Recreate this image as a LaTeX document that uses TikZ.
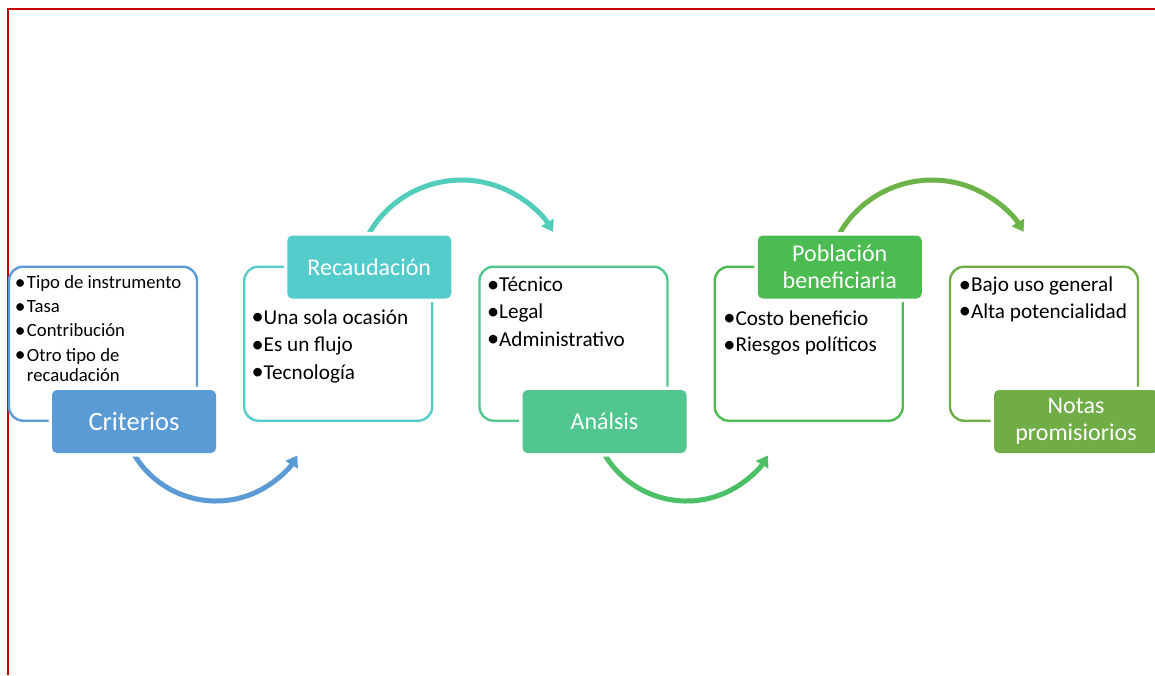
\documentclass[tikz,border=0pt]{standalone}
\usepackage{fontspec}
\setmainfont{Carlito}
\usetikzlibrary{arrows.meta}

\definecolor{frameRed}{HTML}{C80000}
\definecolor{cBlue}{HTML}{5B9BD5}
\definecolor{cTeal}{HTML}{55CCCC}
\definecolor{cMint}{HTML}{51C68F}
\definecolor{cGreen}{HTML}{4CBB52}
\definecolor{cOlive}{HTML}{70AD47}
\definecolor{aTeal}{HTML}{52CDBA}
\definecolor{aGreen}{HTML}{4CC067}
\definecolor{aOlive}{HTML}{6CB34A}

% bullet a little larger than the running text, in a fixed-width column
\newcommand{\itembul}{\makebox[11pt][l]{\hspace*{-1.2pt}\raisebox{-0.04em}{\scalebox{1.15}{•}}}}

\begin{document}
\begin{tikzpicture}[x=1pt,y=-1pt,
  textbox/.style={draw=#1, line width=2.4pt, rounded corners=14pt,
    minimum width=188pt, minimum height=154pt, anchor=north west,
    inner sep=0pt, outer sep=0pt},
  tagbox/.style={fill=#1, preaction={draw=white, line width=7pt},
    rounded corners=5pt, minimum width=164pt, minimum height=63pt,
    anchor=north west, inner sep=0pt, outer sep=0pt, text=white,
    align=center, font=\fontsize{24}{26.7}\selectfont},
  arcflow/.style={draw=#1, line width=5pt,
    -{Triangle[width=14pt,length=11pt]}},
  items/.style={anchor=base west, inner sep=0pt, text=black}]

% page frame
\path[use as bounding box, fill=white] (0,0) rectangle (1155,675);
\draw[frameRed, line width=1.8pt] (8.2,675) -- (8.2,8.6) -- (1155,8.6);

% outlined text boxes
\node[textbox=cBlue]  (b1) at (9,266.7) {};
\node[textbox=cTeal]  (b2) at (244.25,266.7) {};
\node[textbox=cMint]  (b3) at (479.5,266.7) {};
\node[textbox=cGreen] (b4) at (714.75,266.7) {};
\node[textbox=cOlive] (b5) at (950,266.7) {};

% bullet lists
\node[items, font=\fontsize{18.7}{20.3}\selectfont] (l1) at (15.8,288.3)
  {\begin{tabular}[t]{@{}l@{}l@{}}
   \itembul & Tipo de instrumento\\[4pt]
   \itembul & Tasa\\[4pt]
   \itembul & Contribución\\[4pt]
   \itembul & Otro tipo de\\
            & recaudación
   \end{tabular}};
\node[items, font=\fontsize{21.2}{27.5}\selectfont] (l2) at (252.5,324)
  {\begin{tabular}[t]{@{}l@{}l@{}}
   \itembul & Una sola ocasión\\
   \itembul & Es un flujo\\
   \itembul & Tecnología
   \end{tabular}};
\node[items, font=\fontsize{21.2}{27.2}\selectfont] (l3) at (488,291.7)
  {\begin{tabular}[t]{@{}l@{}l@{}}
   \itembul & Técnico\\
   \itembul & Legal\\
   \itembul & Administrativo
   \end{tabular}};
\node[items, font=\fontsize{21.2}{26.7}\selectfont] (l4) at (724.3,325)
  {\begin{tabular}[t]{@{}l@{}l@{}}
   \itembul & Costo beneficio\\
   \itembul & Riesgos políticos
   \end{tabular}};
\node[items, font=\fontsize{21.2}{26.3}\selectfont] (l5) at (959.8,291.7)
  {\begin{tabular}[t]{@{}l@{}l@{}}
   \itembul & Bajo uso general\\
   \itembul & Alta potencialidad
   \end{tabular}};

% curved arrows between the stages
\coordinate (s1) at (133.4,453.3);
\coordinate (s2) at (367.2,236.7);
\coordinate (s3) at (603.9,453.3);
\coordinate (s4) at (837.7,236.7);
\draw[arcflow=cBlue]  (s1) arc[start angle=150, end angle=31.5, radius=95.4];
\draw[arcflow=aTeal]  (s2) arc[start angle=208, end angle=329, radius=106.8];
\draw[arcflow=aGreen] (s3) arc[start angle=150, end angle=31.5, radius=95.4];
\draw[arcflow=aOlive] (s4) arc[start angle=208, end angle=329, radius=106.8];

% stage titles
\node[tagbox=cBlue, font=\fontsize{26.5}{28}\selectfont] (t1) at (52,390) {Criterios};
\node[tagbox=cTeal]  (t2) at (287.25,235.5) {Recaudación};
\node[tagbox=cMint]  (t3) at (522.5,390)   {Análsis};
\node[tagbox=cGreen] (t4) at (757.75,235.5) {Población\\beneficiaria};
\node[tagbox=cOlive] (t5) at (994,390)     {Notas\\promisiorios};
\end{tikzpicture}
\end{document}
